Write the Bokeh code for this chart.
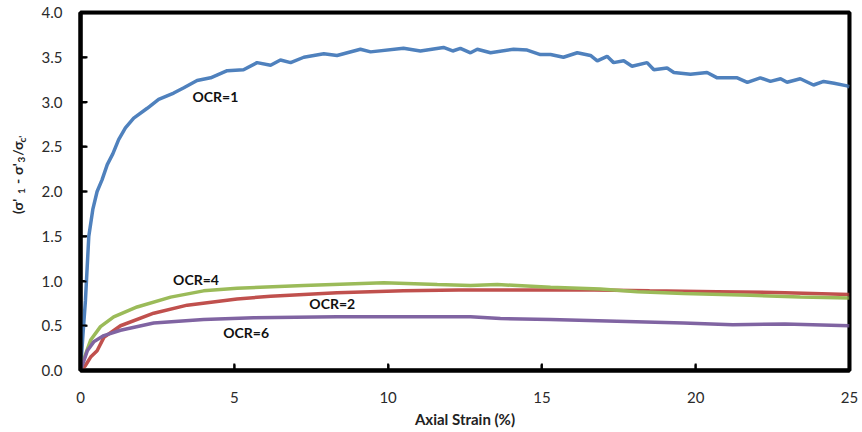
import math
from bokeh.plotting import figure
from bokeh.layouts import row
from bokeh.models import Range1d, FixedTicker, PrintfTickFormatter, Label, BoxAnnotation
from bokeh.embed import file_html
from bokeh.resources import INLINE

# ---- data ----
strain_ocr1 = [0, 0.08, 0.16, 0.27, 0.4, 0.54, 0.7, 0.87, 1.05, 1.24, 1.46, 1.73, 2.17, 2.54,
               3.03, 3.36, 3.79, 4.23, 4.77, 5.3, 5.74, 6.18, 6.5, 6.83, 7.26, 7.91, 8.34, 9.1,
               9.43, 10.5, 11.05, 11.8, 12.1, 12.35, 12.68, 12.9, 13.33, 14.08, 14.52, 14.95,
               15.28, 15.7, 16.15, 16.58, 16.8, 17.12, 17.33, 17.66, 17.93, 18.42, 18.64, 19.07,
               19.29, 19.83, 20.37, 20.7, 21.35, 21.68, 22.1, 22.43, 22.76, 22.97, 23.4, 23.83,
               24.16, 24.5, 24.92, 25.0]
stress_ocr1 = [0, 0.4, 0.78, 1.5, 1.8, 2.0, 2.13, 2.3, 2.42, 2.58, 2.71, 2.82, 2.93, 3.03,
               3.1, 3.16, 3.24, 3.27, 3.35, 3.36, 3.44, 3.41, 3.47, 3.44, 3.5, 3.54, 3.52, 3.59,
               3.56, 3.6, 3.57, 3.61, 3.57, 3.6, 3.55, 3.59, 3.55, 3.59, 3.58, 3.53,
               3.53, 3.5, 3.55, 3.52, 3.46, 3.51, 3.44, 3.46, 3.4, 3.44, 3.36, 3.38,
               3.33, 3.31, 3.33, 3.27, 3.27, 3.22, 3.27, 3.23, 3.26, 3.22, 3.26, 3.19,
               3.23, 3.21, 3.18, 3.17]

strain_ocr2 = [0, 0.15, 0.33, 0.54, 0.76, 1.3, 2.38, 3.47, 5.09, 6.18, 8.34, 10.5, 12.3, 14.7,
               16.7, 18.5, 20.7, 22.9, 25.0]
stress_ocr2 = [0, 0.05, 0.15, 0.22, 0.37, 0.5, 0.64, 0.73, 0.8, 0.83, 0.87, 0.89, 0.9, 0.9,
               0.9, 0.89, 0.88, 0.87, 0.85]

strain_ocr4 = [0, 0.1, 0.33, 0.65, 1.08, 1.84, 2.93, 4.0, 5.09, 7.26, 9.86, 11.6, 12.68, 13.55,
               14.2, 15.28, 16.9, 18.1, 19.6, 21.78, 23.4, 25.0]
stress_ocr4 = [0, 0.12, 0.34, 0.49, 0.6, 0.71, 0.82, 0.89, 0.92, 0.95, 0.98, 0.96, 0.95, 0.96,
               0.95, 0.93, 0.91, 0.88, 0.86, 0.84, 0.82, 0.81]

strain_ocr6 = [0, 0.22, 0.43, 0.76, 1.3, 2.38, 4.0, 5.63, 8.34, 10.5, 12.68, 13.65, 15.28, 17.44,
               19.6, 21.2, 22.9, 25.0]
stress_ocr6 = [0, 0.22, 0.32, 0.39, 0.45, 0.53, 0.57, 0.59, 0.6, 0.6, 0.6, 0.58, 0.57, 0.55,
               0.53, 0.51, 0.52, 0.5]

x_ticks = [0, 5, 10, 15, 20, 25]
y_ticks = [0, 0.5, 1.0, 1.5, 2.0, 2.5, 3.0, 3.5, 4.0]

FONT = "Lato"
X0, X1, Y0, Y1 = 0, 25, 0, 4
TITLE_W = 34
FRAME_W = 862 - 80 - 13      # frame width in px
FRAME_H = 432 - 12 - 62      # frame height in px

p = figure(width=862 - TITLE_W, height=432, output_backend="svg", toolbar_location=None,
           x_range=Range1d(X0, X1), y_range=Range1d(Y0, Y1),
           min_border_left=80 - TITLE_W, min_border_right=13, min_border_top=12,
           min_border_bottom=62)
p.background_fill_color = "white"
p.border_fill_color = "white"
p.outline_line_color = "black"
p.outline_line_width = 4
p.xgrid.visible = False
p.ygrid.visible = False

for ax in (p.xaxis[0], p.yaxis[0]):
    ax.axis_line_color = "black"
    ax.axis_line_width = 4
    ax.major_tick_in = 6
    ax.major_tick_out = 0
    ax.major_tick_line_color = "black"
    ax.major_tick_line_width = 2
    ax.minor_tick_line_color = None
    ax.major_label_text_font = FONT
    ax.major_label_text_font_size = "15px"
    ax.major_label_text_color = "#2a2a2a"

p.xaxis.ticker = FixedTicker(ticks=x_ticks)
p.yaxis.ticker = FixedTicker(ticks=y_ticks)
p.yaxis.formatter = PrintfTickFormatter(format="%.1f")
p.yaxis.major_label_standoff = 18
p.xaxis.major_label_standoff = 21

p.xaxis.axis_label = "Axial Strain (%)"
p.xaxis.axis_label_text_font = FONT
p.xaxis.axis_label_text_font_style = "bold"
p.xaxis.axis_label_text_font_size = "15px"
p.xaxis.axis_label_text_color = "#222222"
p.xaxis.axis_label_standoff = 4

# plot frame
p.add_layout(BoxAnnotation(fill_alpha=0, line_color="black", line_width=4))

# inward tick marks
tick_dy = 7 * (Y1 - Y0) / FRAME_H
tick_dx = 7 * (X1 - X0) / FRAME_W
p.segment(x0=x_ticks, y0=[Y0] * len(x_ticks), x1=x_ticks, y1=[Y0 + tick_dy] * len(x_ticks),
          line_color="black", line_width=2)
p.segment(x0=[X0] * len(y_ticks), y0=y_ticks, x1=[X0 + tick_dx] * len(y_ticks), y1=y_ticks,
          line_color="black", line_width=2)

p.line(strain_ocr1, stress_ocr1, line_color="#4F81BD", line_width=3.5)
p.line(strain_ocr2, stress_ocr2, line_color="#C0504D", line_width=3.5)
p.line(strain_ocr4, stress_ocr4, line_color="#9BBB59", line_width=3.5)
p.line(strain_ocr6, stress_ocr6, line_color="#8064A2", line_width=3.5)

def lab(x, y, t):
    p.add_layout(Label(x=x, y=y, text=t, text_font=FONT, text_font_style="bold",
                       text_font_size="14px", text_color="#111111",
                       text_align="left", text_baseline="middle"))

lab(3.64, 3.06, "OCR=1")
lab(3.01, 1.02, "OCR=4")
lab(7.44, 0.75, "OCR=2")
lab(4.64, 0.43, "OCR=6")

# narrow panel on the left holding the rotated y-axis title, built piece by piece
t = figure(width=TITLE_W, height=432, output_backend="svg", toolbar_location=None,
           x_range=Range1d(0, TITLE_W), y_range=Range1d(0, 432),
           x_axis_location=None, y_axis_location=None, title_location=None,
           min_border=0)
t.outline_line_color = None
t.xgrid.visible = False
t.ygrid.visible = False
t.background_fill_color = "white"
t.border_fill_color = "white"

def ypart(txt, ycanvas, sub=False):
    t.add_layout(Label(x=21 if sub else 17, y=432 - ycanvas, text=txt, angle=math.pi / 2,
                       text_font=FONT, text_font_style="bold",
                       text_font_size="10px" if sub else "14px",
                       text_color="#222222", text_align="left", text_baseline="middle"))

ypart("(σ'", 243)
ypart("1", 219, sub=True)
ypart("-", 207)
ypart("σ'", 196)
ypart("3", 181, sub=True)
ypart("/σ", 173)
ypart("c'", 157, sub=True)

layout = row(t, p, spacing=0)
open("out.html", "w").write(file_html(layout, INLINE))
